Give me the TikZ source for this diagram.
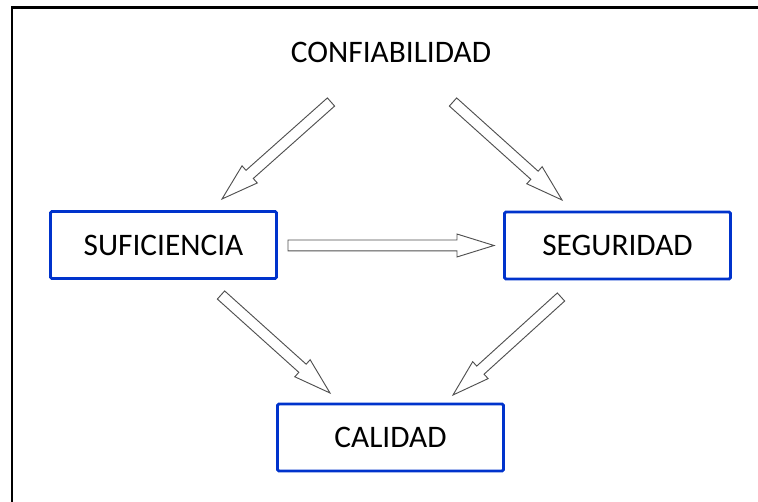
\documentclass[tikz,border=0pt]{standalone}
\usepackage{fontspec}
\setmainfont{Carlito}
\usetikzlibrary{calc}
\definecolor{boxblue}{RGB}{0,51,204}
\definecolor{arrowgray}{RGB}{80,80,80}

\tikzset{
    item/.style={draw=boxblue, line width=2.2pt, rounded corners=1pt, minimum width=169.5pt, minimum height=50.25pt, font=\fontsize{23.5}{28}\selectfont},
    title/.style={font=\fontsize{23.5}{28}\selectfont},
    hollow/.style={draw=arrowgray, line width=0.7pt, fill=white, line join=miter}
}

\newcommand{\hollowarrow}[2]{%
    \path ($(#2)!27.75pt!(#1)$) coordinate (hb);
    \draw[hollow] ($(#1)!4.1pt!90:(#2)$) -- ($(hb)!4.1pt!90:(#2)$) -- ($(hb)!8.6pt!90:(#2)$) -- (#2)
        -- ($(hb)!8.6pt!-90:(#2)$) -- ($(hb)!4.1pt!-90:(#2)$) -- ($(#1)!4.1pt!-90:(#2)$) -- cycle;
}

\begin{document}
\begin{tikzpicture}[x=0.75pt, y=-0.75pt]
        \useasboundingbox (0,0) rectangle (758,502);
        \draw[line width=2pt] (12,502) -- (12,7.5) -- (758,7.5);

        \node[title] (conf) at (391,52) {CONFIABILIDAD};
        \node[item] (suf) at (163.5,245) {SUFICIENCIA};
        \node[item] (seg) at (617.5,245.5) {SEGURIDAD};
        \node[item] (cal) at (390.5,437.5) {CALIDAD};

        \coordinate (t1) at (331,102); \coordinate (h1) at (222,199);
        \coordinate (t2) at (453,102); \coordinate (h2) at (562,200);
        \coordinate (t3) at (288,245.5); \coordinate (h3) at (494,245.5);
        \coordinate (t4) at (221,295); \coordinate (h4) at (330,393);
        \coordinate (t5) at (561,297); \coordinate (h5) at (453,395);

        \hollowarrow{t1}{h1}
        \hollowarrow{t2}{h2}
        \hollowarrow{t3}{h3}
        \hollowarrow{t4}{h4}
        \hollowarrow{t5}{h5}
    \end{tikzpicture}
\end{document}
